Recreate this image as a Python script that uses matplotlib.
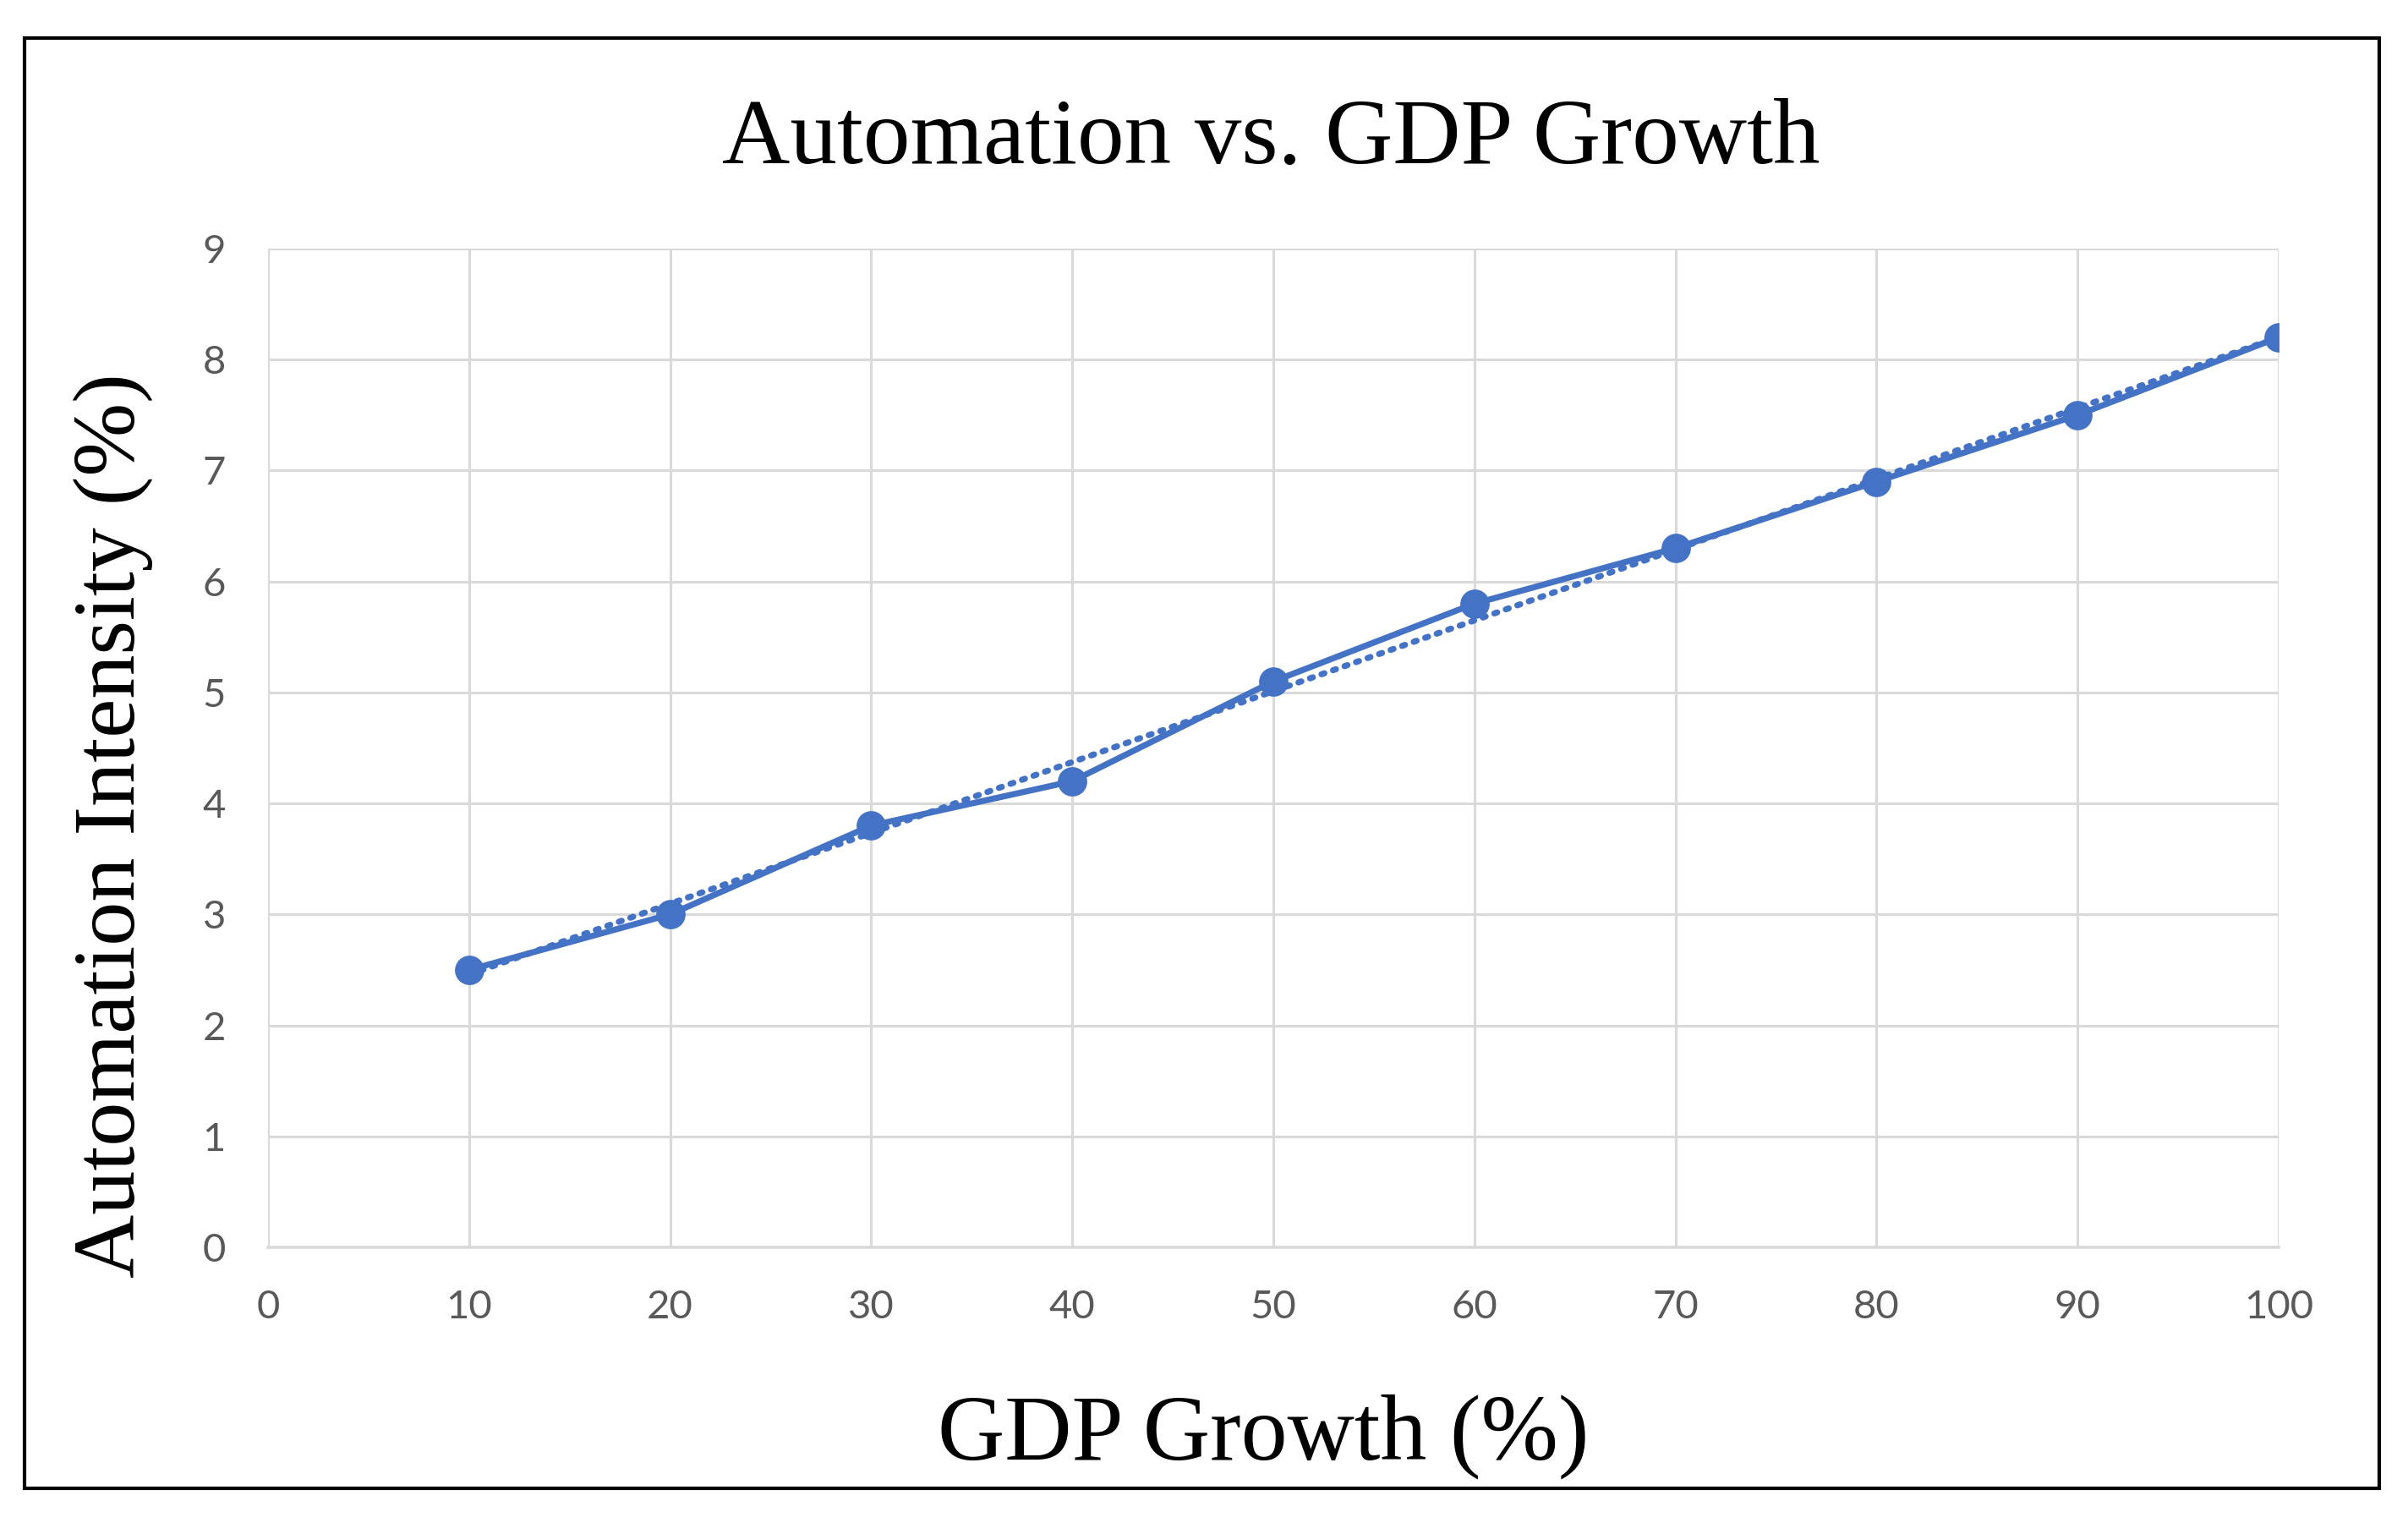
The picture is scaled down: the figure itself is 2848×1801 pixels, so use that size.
import numpy as np
import matplotlib.pyplot as plt
from matplotlib.patches import Rectangle

# data
gdp_growth = [10, 20, 30, 40, 50, 60, 70, 80, 90, 100]
automation = [2.5, 3.0, 3.8, 4.2, 5.1, 5.8, 6.3, 6.9, 7.5, 8.2]
x_ticks = list(range(0, 101, 10))
y_ticks = list(range(0, 10))

blue = "#4472C4"
grid_col = "#d9d9d9"
tick_col = "#595959"
serif = "Liberation Serif"

fig = plt.figure(figsize=(14.24, 9.005), dpi=200)
ax = fig.add_axes([0.1113, 0.181, 0.835, 0.6558])

# linear trendline (like the Excel one)
k, b = np.polyfit(gdp_growth, automation, 1)
xt = np.array([gdp_growth[0], gdp_growth[-1]])
ax.plot(xt, k * xt + b, color=blue, lw=2.6, linestyle=(0, (0.5, 1.5)),
        dash_capstyle="round", zorder=3)

ax.plot(gdp_growth, automation, color=blue, lw=2.6, marker="o",
        markersize=11.5, zorder=4)

ax.set_xlim(0, 100)
ax.set_ylim(0, 9)
ax.set_xticks(x_ticks)
ax.set_yticks(y_ticks)
ax.grid(True, color=grid_col, lw=1.1)
ax.set_axisbelow(True)
for s in ["top", "right", "left"]:
    ax.spines[s].set_visible(False)
ax.spines["bottom"].set_color(grid_col)
ax.spines["bottom"].set_linewidth(1.3)
ax.tick_params(length=0, labelsize=17, labelcolor=tick_col, pad=18)
for lab in ax.get_xticklabels() + ax.get_yticklabels():
    lab.set_fontfamily("Lato")

fig.text(0.528, 0.893, "Automation vs. GDP Growth", ha="center", va="baseline",
         fontsize=40, family=serif)
fig.text(0.5245, 0.042, "GDP Growth (%)", ha="center", va="baseline",
         fontsize=39.5, family=serif)
fig.text(0.047, 0.458, "Automation Intensity (%)", ha="center", va="center",
         rotation=90, fontsize=37.5, family=serif)

# black frame around the figure
fig.patches.append(Rectangle((29 / 2848, 1 - 1760 / 1801), (2814 - 29) / 2848,
                             (1760 - 45) / 1801, transform=fig.transFigure,
                             fill=False, edgecolor="black", lw=1.5))

fig.savefig("out.png", dpi=200, facecolor="white")
